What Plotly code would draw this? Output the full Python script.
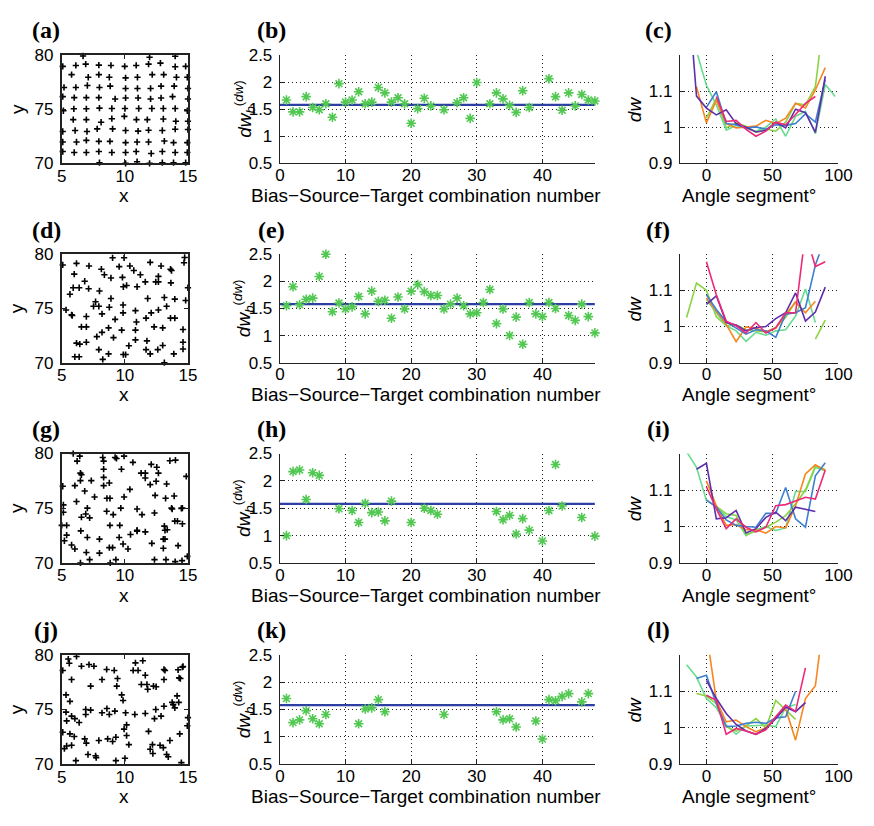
import plotly.graph_objects as go

W, H = 874, 826
N = None

# ---------------- data ----------------
a_pts = [(6.69,79.9),(11.05,80.03),(11.96,79.79),(13.99,79.88),
 (5.08,78.94),(6.12,79.03),(6.90,79.15),(7.94,79.06),(8.90,79.03),(9.99,78.94),(10.9,79.03),(11.88,79.15),(12.82,79.24),(13.99,78.91),(14.82,78.94),
 (5.78,78.18),(7.1,77.94),(7.94,78.18),(8.77,77.94),(10.06,77.88),(11.0,77.94),(12.17,78.18),(13.08,78.18),(14.09,77.94),(14.95,77.94),
 (5.18,77.0),(6.12,77.0),(7.03,77.18),(7.99,77.0),(8.84,77.12),(10.06,76.91),(11.0,76.91),(12.04,76.91),(12.87,77.12),(13.91,77.12),(15.0,76.91),
 (5.08,76.15),(5.99,76.06),(6.95,76.06),(7.94,76.06),(9.23,75.94),(10.06,76.03),(11.05,76.03),(12.04,75.94),(12.87,76.03),(13.78,76.15),(15.0,75.94),
 (5.13,74.85),(5.96,75.03),(6.95,75.03),(7.99,75.09),(8.97,75.06),(10.01,75.06),(11.1,75.06),(12.14,75.06),(13.05,75.06),(13.99,75.06),(14.95,74.85),
 (5.91,74.03),(6.95,74.03),(8.12,73.79),(8.97,74.12),(9.96,74.33),(10.92,74.03),(11.78,74.03),(13.05,74.09),(14.04,73.88),(15.0,73.88),
 (5.08,72.94),(6.06,73.03),(7.0,72.94),(7.81,73.18),(9.03,73.18),(10.06,73.03),(11.05,72.97),(11.88,73.06),(12.97,73.03),(13.99,73.15),(15.0,73.12),
 (5.08,71.97),(6.17,71.97),(6.95,72.12),(7.94,72.03),(8.82,72.03),(10.06,71.91),(10.97,71.97),(11.88,71.97),(13.13,72.06),(13.86,71.91),(14.95,71.91),
 (5.08,71.09),(5.99,71.0),(6.95,71.0),(7.94,71.09),(8.97,71.0),(10.06,71.0),(10.9,71.09),(12.09,70.91),(12.97,71.09),(13.99,71.0),(14.95,71.0),
 (5.99,69.94),(7.99,70.06),(9.03,69.94),(10.06,70.0),(10.97,70.15),(11.96,70.0),(12.97,70.06),(13.86,70.06),(14.82,70.06)]

d_pts = [(5.08,79.01),(6.17,79.16),(5.99,78.17),(6.82,77.51),(7.16,78.92),(8.14,78.62),(8.38,78.11),(9.03,79.67),(9.94,79.67),(9.55,78.86),
 (10.4,78.92),(10.71,78.5),(11.23,78.11),(12.01,79.25),(12.87,78.92),(13.62,78.62),(13.7,78.5),(14.69,79.22),(14.74,79.7),(5.65,76.31),
 (5.91,76.91),(6.38,76.91),(7.13,76.82),(7.99,76.61),(8.9,77.81),(9.81,77.87),(9.88,77.0),(10.14,77.12),(10.97,77.0),(11.62,77.45),
 (12.45,77.45),(12.66,77.45),(12.66,77.96),(13.65,77.36),(15.0,76.91),(5.34,74.86),(5.78,74.41),(5.83,74.35),(7.68,75.62),(7.52,75.2),
 (7.94,75.2),(8.19,74.5),(8.9,75.92),(8.77,75.11),(9.23,73.99),(9.86,75.32),(9.86,74.59),(10.84,74.8),(10.92,73.75),(11.68,74.11),
 (11.81,75.92),(12.09,74.59),(12.66,74.86),(13.13,76.01),(13.31,75.2),(13.62,74.11),(13.96,75.86),(13.96,74.11),(14.82,75.74),(6.56,73.3),
 (6.95,73.3),(6.95,74.26),(7.78,72.4),(8.19,72.79),(8.71,73.21),(9.1,72.31),(9.75,73.0),(10.84,73.0),(10.84,72.1),(10.32,71.56),
 (11.75,72.01),(12.32,73.3),(13.0,73.21),(14.61,73.06),(6.17,71.8),(6.43,71.71),(6.95,71.89),(7.94,71.2),(8.71,70.81),(8.25,70.3),
 (9.88,70.75),(10.06,70.75),(12.01,70.81),(11.68,71.2),(12.61,71.2),(13.0,71.59),(13.88,70.81),(14.61,71.26),(14.61,71.89),(6.04,70.54),
 (6.38,70.54),(13.13,70.0)]

g_pts = [(5.91,80.0),(6.43,79.76),(6.22,79.31),(5.08,77.01),(6.04,77.07),(6.48,78.21),(6.56,78.06),(6.48,77.52),(6.82,76.57),(7.34,77.52),
 (7.6,76.03),(6.17,75.61),(8.25,79.64),(8.32,79.31),(8.32,78.57),(8.32,77.82),(8.32,77.07),(8.77,77.31),(8.58,75.91),(8.82,75.91),
 (9.23,79.64),(9.34,79.55),(9.94,79.76),(9.73,78.57),(10.64,79.19),(10.4,76.72),(9.94,76.03),(11.29,78.21),(11.62,78.21),(11.62,77.76),
 (12.09,79.01),(12.53,78.75),(12.66,78.21),(12.01,77.16),(12.48,77.46),(12.4,76.18),(12.35,74.57),(13.31,77.22),(13.23,75.91),(13.57,79.34),
 (14.01,79.4),(13.91,76.12),(5.13,75.31),(5.13,74.63),(13.7,75.01),(13.75,74.93),(14.48,74.99),(14.56,75.01),(14.87,77.91),(5.0,73.43),
 (5.39,73.43),(7.03,75.01),(6.9,74.48),(7.21,74.12),(6.56,74.18),(8.56,74.72),(9.08,74.42),(8.82,73.43),(9.6,73.43),(9.68,75.01),
 (10.97,74.93),(11.36,74.42),(10.97,72.99),(10.97,72.9),(11.62,72.84),(13.13,73.37),(13.18,72.99),(13.36,73.04),(13.96,73.82),(14.17,73.82),
 (14.56,73.58),(6.51,72.93),(7.03,72.33),(7.99,72.18),(9.55,72.33),(9.86,71.73),(10.25,71.28),(10.45,72.6),(5.21,72.03),(5.39,72.54),
 (5.78,71.64),(6.04,71.28),(6.95,70.96),(7.21,70.3),(6.48,70.0),(7.99,70.9),(8.77,71.4),(9.03,71.4),(9.29,70.3),(8.84,70.0),
 (12.14,71.79),(13.05,72.18),(13.18,72.18),(13.05,71.34),(14.22,71.58),(12.35,70.3),(13.26,70.3),(13.99,70.12),(14.53,70.21),(14.95,70.6)]

j_pts = [(5.08,78.57),(5.52,79.61),(5.6,79.23),(5.78,77.74),(6.17,79.85),(6.56,78.96),(7.16,79.11),(7.55,78.96),(7.29,77.14),(8.19,77.74),
 (8.56,78.66),(9.16,78.57),(9.42,77.83),(9.36,77.14),(9.75,76.34),(9.86,75.83),(10.66,78.57),(11.05,78.57),(10.84,79.26),(11.42,79.46),
 (11.62,78.13),(11.31,77.29),(11.75,77.29),(11.81,76.85),(12.27,77.14),(12.48,77.08),(13.18,78.57),(13.1,77.74),(13.1,78.66),(14.22,78.63),
 (14.3,77.89),(14.56,78.87),(14.61,78.93),(14.4,77.83),(5.34,76.34),(5.65,75.74),(5.34,74.76),(5.39,73.96),(5.78,74.4),(6.04,74.17),
 (6.38,73.81),(6.9,75.0),(6.9,74.55),(7.29,74.94),(8.19,74.7),(8.58,75.09),(8.77,74.55),(9.21,74.85),(10.06,74.7),(10.79,74.55),
 (11.62,74.64),(12.45,75.0),(12.35,74.17),(12.87,74.4),(13.1,75.3),(13.75,75.65),(13.83,75.45),(13.96,75.15),(14.14,76.25),(14.27,75.65),
 (14.95,73.51),(15.0,74.26),(5.08,72.92),(5.65,72.77),(5.99,72.53),(5.78,71.73),(5.21,71.43),(5.39,71.67),(6.82,72.32),(6.95,71.93),
 (7.94,72.17),(8.64,72.32),(9.03,72.08),(9.29,72.47),(9.94,73.21),(10.14,73.6),(10.14,72.62),(10.32,71.79),(11.88,73.0),(12.01,71.37),
 (12.19,71.79),(12.22,70.98),(12.79,71.73),(13.05,71.52),(13.31,70.89),(13.44,70.68),(13.57,72.17),(14.35,72.77),(6.12,70.33),(7.08,70.89),
 (7.68,70.77),(7.73,70.6),(9.29,70.33),(10.01,70.54),(14.48,70.15)]

b_x = [1,2,3,4,5,6,7,8,9,10,11,12,13,14,15,16,17,18,19,20,21,22,23,25,27,28,29,30,32,33,34,35,36,37,38,41,42,43,44,45,46,47,48]
b_y = [1.67,1.45,1.45,1.73,1.53,1.49,1.60,1.35,1.97,1.63,1.67,1.82,1.60,1.63,1.90,1.80,1.63,1.71,1.60,1.24,1.51,1.70,1.56,1.49,1.62,1.71,1.33,1.99,1.60,1.80,1.69,1.57,1.44,1.84,1.53,2.06,1.73,1.48,1.80,1.56,1.77,1.67,1.65]

e_x = [1,2,3,4,5,6,7,8,9,10,11,12,13,14,15,16,17,18,19,20,21,22,23,24,25,26,27,28,29,30,31,32,33,34,35,36,37,38,39,40,41,42,44,45,46,47,48]
e_y = [1.55,1.90,1.57,1.67,1.69,2.09,2.50,1.44,1.60,1.49,1.53,1.72,1.40,1.82,1.63,1.65,1.32,1.71,1.49,1.82,1.94,1.81,1.74,1.74,1.49,1.58,1.69,1.55,1.40,1.42,1.61,1.85,1.22,1.49,1.00,1.34,0.84,1.61,1.40,1.35,1.61,1.50,1.37,1.28,1.58,1.35,1.05]

h_x = [1,2,3,4,5,6,9,11,12,13,14,15,16,17,20,22,23,24,33,34,35,36,37,38,40,41,42,43,46,48]
h_y = [1.00,2.17,2.20,1.66,2.15,2.10,1.49,1.46,1.24,1.59,1.42,1.43,1.27,1.63,1.24,1.50,1.46,1.39,1.44,1.29,1.37,1.03,1.31,1.10,0.90,1.46,2.30,1.54,1.33,0.99]

k_x = [1,2,3,4,5,6,7,12,13,14,15,16,25,33,34,35,36,39,40,41,42,43,44,46,47]
k_y = [1.70,1.26,1.31,1.48,1.33,1.24,1.41,1.24,1.51,1.53,1.68,1.46,1.41,1.46,1.31,1.33,1.18,1.29,0.96,1.68,1.66,1.74,1.79,1.64,1.79]

mean_dw = 1.58
mean_x = [0, 48]

angles = [-15,-7.5,0,7.5,15,22.5,30,37.5,45,52.5,60,67.5,75,82.5,90,97.5]

c_orange = [N,1.112,1.012,1.075,1.01,0.998,1.0,1.003,1.019,1.01,1.025,1.066,1.053,1.103,1.165,N]
c_lime   = [N,N,1.025,1.08,0.998,1.012,1.003,0.986,0.995,0.989,1.014,1.066,1.062,1.112,1.335,N]
c_mint   = [N,1.21,1.116,1.062,0.992,1.005,0.998,0.989,1.0,1.023,0.975,1.03,1.044,0.982,1.118,1.085]
c_blue   = [N,N,1.055,1.098,1.01,1.007,0.998,1.001,0.994,1.007,1.005,1.01,1.037,1.014,1.132,N]
c_purple = [1.43,1.086,1.053,1.034,1.048,1.01,1.0,0.987,0.991,1.014,0.998,1.05,1.04,0.986,1.141,N]
c_pink   = [N,N,N,1.085,1.016,1.019,0.994,0.975,0.989,1.014,1.007,1.035,1.066,1.085,N,N]

f_lime   = [1.025,1.12,1.1,1.027,1.002,1.004,0.991,0.988,0.985,0.997,1.025,1.07,N,0.965,1.018,N]
f_mint   = [N,N,1.075,1.038,1.002,0.988,0.959,0.984,0.976,0.988,0.991,1.029,1.104,1.011,N,N]
f_orange = [N,N,1.079,1.043,1.006,0.958,0.999,0.995,0.985,0.995,1.034,1.067,1.038,1.07,N,N]
f_blue   = [N,N,1.088,1.047,1.013,0.997,0.979,0.991,0.988,0.97,1.034,1.038,1.052,1.17,1.245,N]
f_purple = [N,N,1.061,1.085,1.011,1.004,0.988,0.997,1.0,1.022,1.038,1.093,1.015,1.04,1.109,N]
f_pink   = [N,N,1.179,1.088,1.015,1.002,0.982,1.011,0.982,0.997,1.038,1.038,1.26,1.166,1.179,N]

i_mint   = [1.205,1.162,1.071,1.055,1.027,1.018,0.975,0.991,1.0,0.989,0.996,1.096,1.096,1.162,1.153,N]
i_purple = [N,1.157,1.173,1.021,1.024,1.044,0.982,0.994,1.025,1.039,1.016,1.053,1.048,1.041,N,N]
i_blue   = [N,N,1.073,1.053,1.018,1.003,1.0,0.998,1.036,1.036,1.107,1.021,0.998,1.139,1.175,N]
i_orange = [N,N,1.125,1.057,1.003,1.005,0.991,0.991,0.982,1.0,0.996,1.057,1.144,1.169,1.153,N]
i_lime   = [N,N,N,1.055,1.035,1.03,0.978,0.987,0.998,1.012,1.03,1.062,1.1,1.166,1.156,N]
i_pink   = [N,N,1.109,1.048,0.994,1.021,0.998,0.985,0.998,1.057,1.06,1.071,1.08,1.075,1.155,N]

l_mint   = [1.173,1.139,1.08,1.055,1.007,0.982,1.005,1.005,1.007,1.003,1.055,1.064,N,N,N,N]
l_lime   = [N,1.094,1.087,1.066,1.003,0.991,1.005,1.025,1.0,1.075,1.048,1.023,N,N,N,N]
l_orange = [N,N,1.2625,1.075,1.016,1.021,1.003,0.989,1.0,1.03,1.053,0.966,1.08,1.115,1.33,N]
l_blue   = [N,1.135,1.144,1.066,1.003,1.005,1.012,1.015,1.012,1.027,1.03,1.1,N,N,N,N]
l_purple = [N,N,1.13,1.08,1.039,1.009,0.991,0.982,0.998,1.025,1.057,1.044,1.069,N,N,N]
l_pink   = [N,N,1.089,1.075,0.982,0.998,0.991,0.982,0.994,1.03,1.062,1.045,1.164,N,N,N]

COL = {"orange": "#f7861f", "lime": "#8ad443", "mint": "#68dc8f",
       "blue": "#3f7fd0", "purple": "#5f2eaa", "pink": "#ec2a78"}

scatter_sets = [a_pts, d_pts, g_pts, j_pts]
star_sets = [(b_x, b_y), (e_x, e_y), (h_x, h_y), (k_x, k_y)]
line_sets = [
    [("lime", c_lime), ("mint", c_mint), ("orange", c_orange), ("blue", c_blue), ("purple", c_purple), ("pink", c_pink)],
    [("lime", f_lime), ("mint", f_mint), ("orange", f_orange), ("blue", f_blue), ("purple", f_purple), ("pink", f_pink)],
    [("mint", i_mint), ("lime", i_lime), ("orange", i_orange), ("blue", i_blue), ("purple", i_purple), ("pink", i_pink)],
    [("mint", l_mint), ("lime", l_lime), ("orange", l_orange), ("blue", l_blue), ("purple", l_purple), ("pink", l_pink)],
]
letters = [("(a)", "(b)", "(c)"), ("(d)", "(e)", "(f)"), ("(g)", "(h)", "(i)"), ("(j)", "(k)", "(l)")]

# ---------------- layout geometry (pixels) ----------------
row_top = [47, 251, 455, 661]
row_bot = [158, 362, 567, 773]
col_l = [58, 281, 690]
col_r = [187, 603, 852]

def px(x):
    return x / W

def py(y):
    return 1 - y / H

fig = go.Figure()
layout = dict(width=W, height=H, margin=dict(l=0, r=0, t=0, b=0),
              paper_bgcolor="white", plot_bgcolor="white", showlegend=False)
ann = []
TICKF = dict(family="Liberation Sans, Arial", size=17, color="black")
TITLEF = dict(family="Liberation Sans, Arial", size=19, color="black")
LETF = dict(family="Liberation Serif, Times New Roman", size=24, color="black")
GRID = dict(showgrid=True, gridcolor="#222", griddash="1px,3px", gridwidth=1)

for r in range(4):
    for c in range(3):
        k = r * 3 + c + 1
        xa = "xaxis" if k == 1 else f"xaxis{k}"
        ya = "yaxis" if k == 1 else f"yaxis{k}"
        xr = "x" if k == 1 else f"x{k}"
        yr = "y" if k == 1 else f"y{k}"
        xd = [px(col_l[c]), px(col_r[c])]
        yd = [py(row_bot[r]), py(row_top[r])]
        base_x = dict(domain=xd, anchor=yr, showline=True, linecolor="#222", linewidth=1.3,
                      ticks="inside", ticklen=4, tickcolor="#222", tickfont=TICKF,
                      zeroline=False, ticklabelstandoff=-4)
        base_y = dict(domain=yd, anchor=xr, showline=True, linecolor="#222", linewidth=1.3,
                      ticks="inside", ticklen=4, tickcolor="#222", tickfont=TICKF,
                      zeroline=False, ticklabelstandoff=3)
        if c == 0:
            base_x.update(range=[5, 15], tickvals=[5, 10, 15], mirror="ticks", showgrid=False, linewidth=1.8)
            base_y.update(range=[70, 80], tickvals=[70, 75, 80], mirror="ticks", showgrid=False, linewidth=1.8)
            pts = scatter_sets[r]
            fig.add_trace(go.Scatter(x=[p[0] for p in pts], y=[p[1] for p in pts], mode="markers",
                                     marker=dict(symbol="cross-thin", size=4.5, color="black",
                                                 line=dict(color="black", width=1.6)),
                                     xaxis=xr, yaxis=yr, cliponaxis=False))
        elif c == 1:
            base_x.update(range=[0, 48], tickvals=[0, 10, 20, 30, 40], **GRID)
            base_y.update(range=[0.5, 2.5], tickvals=[0.5, 1, 1.5, 2, 2.5], ticktext=["0.5", "1", "1.5", "2", "2.5"], **GRID)
            sx, sy = star_sets[r]
            fig.add_trace(go.Scatter(x=mean_x, y=[mean_dw, mean_dw], mode="lines",
                                     line=dict(color="#2e3fa3", width=2.2), xaxis=xr, yaxis=yr))
            fig.add_trace(go.Scatter(x=sx, y=sy, mode="markers",
                                     marker=dict(symbol="asterisk-open", size=8, color="#52c852",
                                                 line=dict(color="#52c852", width=1.6)),
                                     xaxis=xr, yaxis=yr, cliponaxis=False))
        else:
            base_x.update(range=[-20, 100], tickvals=[0, 50, 100], **GRID)
            base_y.update(range=[0.9, 1.2], tickvals=[0.9, 1, 1.1], ticktext=["0.9", "1", "1.1"], **GRID)
            for name, vals in line_sets[r]:
                fig.add_trace(go.Scatter(x=angles, y=vals, mode="lines",
                                         line=dict(color=COL[name], width=1.6),
                                         connectgaps=False, xaxis=xr, yaxis=yr))
        layout[xa] = base_x
        layout[ya] = base_y

    # letters
    ly = row_top[r] - 25
    for lx, lt in zip([42, 272, 668], letters[r]):
        ann.append(dict(text="<b>%s</b>" % lt, x=px(lx), y=py(ly), xref="paper", yref="paper",
                        showarrow=False, font=LETF, xanchor="center", yanchor="middle"))
    # axis titles
    ty = row_bot[r] + 33
    cy = (row_top[r] + row_bot[r]) / 2
    ann.append(dict(text="x", x=px(122), y=py(ty), xref="paper", yref="paper", showarrow=False,
                    font=TITLEF, xanchor="center", yanchor="middle"))
    ann.append(dict(text="y", x=px(12), y=py(cy), xref="paper", yref="paper", showarrow=False,
                    font=TITLEF, xanchor="center", yanchor="middle", textangle=-90))
    ann.append(dict(text="Bias\u2212Source\u2212Target combination number", x=px(430), y=py(ty),
                    xref="paper", yref="paper", showarrow=False, font=TITLEF,
                    xanchor="center", yanchor="middle"))
    ann.append(dict(text="<i>dw</i><sub><i>b</i></sub><sup>(<i>dw</i>)</sup>", x=px(244), y=py(cy),
                    xref="paper", yref="paper", showarrow=False, font=TITLEF,
                    xanchor="center", yanchor="middle", textangle=-90))
    ann.append(dict(text="Angle segment\u00b0", x=px(761), y=py(ty), xref="paper", yref="paper",
                    showarrow=False, font=TITLEF, xanchor="center", yanchor="middle"))
    ann.append(dict(text="<i>dw</i>", x=px(643), y=py(cy), xref="paper", yref="paper",
                    showarrow=False, font=TITLEF, xanchor="center", yanchor="middle", textangle=-90))

layout["annotations"] = ann
fig.update_layout(**layout)
fig.write_html("out.html")
